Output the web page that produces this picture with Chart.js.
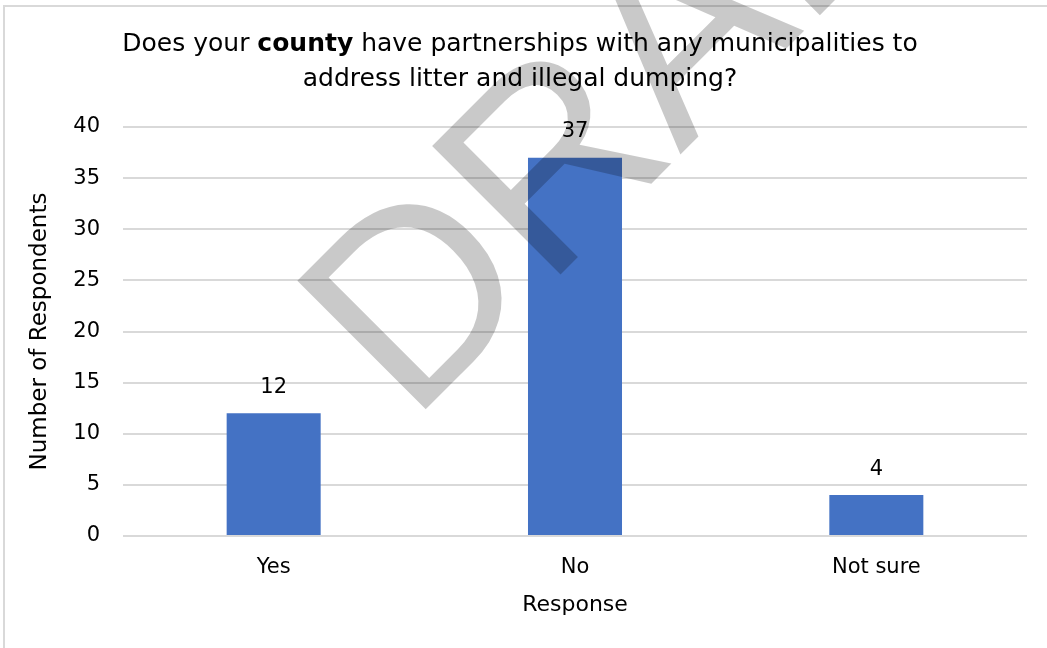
<!DOCTYPE html>
<html>
<head>
<meta charset="utf-8">
<script src="https://cdn.jsdelivr.net/npm/chart.js@4.4.0/dist/chart.umd.min.js"></script>
<style>
  html, body { margin: 0; padding: 0; background: #fff; }
</style>
</head>
<body>
<canvas id="surveyChart" width="1047" height="648"></canvas>
<script>
// Datos de la encuesta
const categories = ['Yes', 'No', 'Not sure'];
const respondents = [12, 37, 4];
const yMax = 40;
const yStep = 5;

const titleLine1 = [
    { text: 'Does your ', bold: false },
    { text: 'county', bold: true },
    { text: ' have partnerships with any municipalities to', bold: false }
];
const titleLine2 = 'address litter and illegal dumping?';
const xTitle = 'Response';
const yTitle = 'Number of Respondents';
const watermark = 'DRAFT';

const FAMILY = "'DejaVu Sans', sans-serif";

// Marco gris del gráfico
const frame = {
    id: 'frame',
    beforeDraw(chart) {
        const c = chart.ctx;
        c.save();
        c.fillStyle = '#ffffff';
        c.fillRect(0, 0, chart.width, chart.height);
        c.strokeStyle = '#d9d9d9';
        c.lineWidth = 2;
        c.strokeRect(4, 6, chart.width + 40, chart.height + 40);
        c.restore();
    }
};

// Marca de agua + etiquetas de valor sobre las barras
const overlay = {
    id: 'overlay',
    afterDatasetsDraw(chart) {
        const c = chart.ctx;
        c.save();
        c.translate(425, 410);
        c.rotate(-Math.PI / 4);
        c.font = "264px 'Liberation Sans', sans-serif";
        c.fillStyle = 'rgba(0, 0, 0, 0.21)';
        c.textBaseline = 'alphabetic';
        c.textAlign = 'left';
        const m = c.measureText(watermark);
        c.fillText(watermark, m.actualBoundingBoxLeft, 0);
        c.restore();

        const meta = chart.getDatasetMeta(0);
        c.save();
        c.font = '21px ' + FAMILY;
        c.fillStyle = '#000';
        c.textAlign = 'center';
        c.textBaseline = 'middle';
        meta.data.forEach((bar, i) => {
            c.fillText(String(respondents[i]), bar.x, bar.y - 26);
        });
        c.restore();
    }
};

// Título con "county" en negrita
const mixedTitle = {
    id: 'mixedTitle',
    afterDraw(chart) {
        const c = chart.ctx;
        const cx = 520;
        const size = 25;
        const font = (b) => (b ? 'bold ' : '') + size + 'px ' + FAMILY;
        c.save();
        c.fillStyle = '#000';
        c.textBaseline = 'alphabetic';
        c.textAlign = 'left';
        let total = 0;
        titleLine1.forEach((p) => { c.font = font(p.bold); total += c.measureText(p.text).width; });
        let x = cx - total / 2;
        titleLine1.forEach((p) => {
            c.font = font(p.bold);
            c.fillText(p.text, x, 51);
            x += c.measureText(p.text).width;
        });
        c.font = font(false);
        c.textAlign = 'center';
        c.fillText(titleLine2, cx, 86);
        c.restore();
    }
};

new Chart(document.getElementById('surveyChart'), {
    type: 'bar',
    data: {
        labels: categories,
        datasets: [{
            data: respondents,
            backgroundColor: '#4472C4',
            borderWidth: 0,
            barPercentage: 1,
            categoryPercentage: 0.312
        }]
    },
    options: {
        responsive: false,
        animation: false,
        events: [],
        layout: { padding: { top: 127, right: 20, bottom: 30, left: 0 } },
        plugins: {
            legend: { display: false },
            title: { display: false },
            tooltip: { enabled: false }
        },
        scales: {
            x: {
                grid: { display: false },
                border: { display: false },
                ticks: { color: '#000', font: { family: FAMILY, size: 21 }, padding: 11, maxRotation: 0 },
                title: { display: true, text: xTitle, color: '#000', font: { family: FAMILY, size: 22 }, padding: { top: 0, bottom: 0 } },
                afterFit(s) { s.height = 82; }
            },
            y: {
                min: 0,
                max: yMax,
                grid: { color: '#d9d9d9', lineWidth: 2, drawTicks: false },
                border: { display: false },
                ticks: { stepSize: yStep, color: '#000', font: { family: FAMILY, size: 21 }, padding: 23 },
                title: { display: true, text: yTitle, color: '#000', font: { family: FAMILY, size: 23 }, padding: { top: 26, bottom: 0 } },
                afterFit(s) { s.width = 123; }
            }
        }
    },
    plugins: [frame, overlay, mixedTitle]
});
</script>
</body>
</html>
